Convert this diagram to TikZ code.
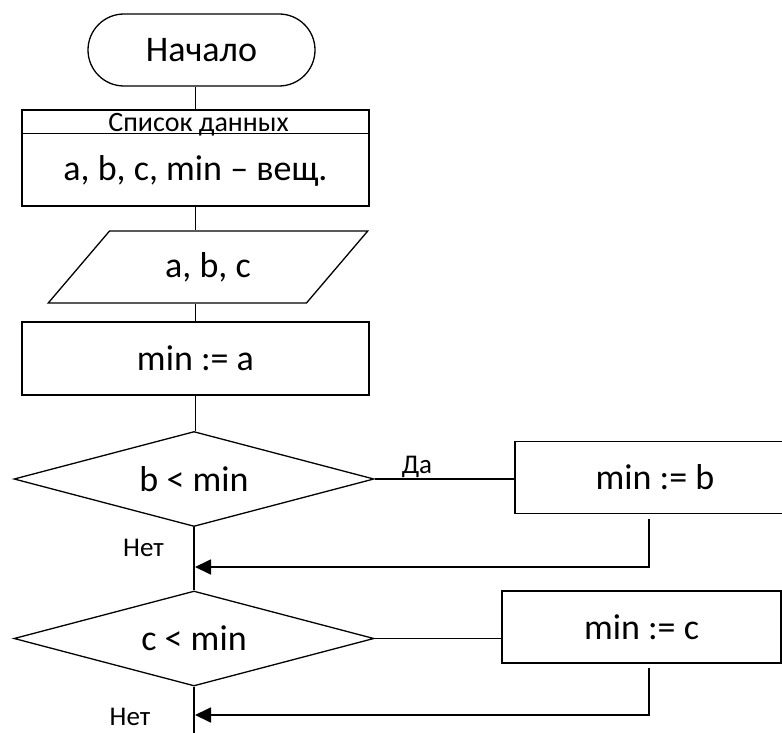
\documentclass[tikz,border=0pt]{standalone}
\usepackage{fontspec}
\setmainfont{Carlito}
\usetikzlibrary{arrows.meta,positioning,shapes.geometric,calc}

\begin{document}
\begin{tikzpicture}[
  x=1pt, y=-1pt,
  term/.style={draw, line width=1.3pt, rounded corners=36pt,
               minimum width=227pt, minimum height=72pt,
               font=\fontsize{36}{40}\selectfont},
  block/.style={draw, line width=1.3pt, minimum width=347pt, inner sep=0pt,
                font=\fontsize{36}{40}\selectfont},
  io/.style={trapezium, trapezium left angle=48, trapezium right angle=132,
             trapezium stretches, draw, line width=1.3pt,
             minimum width=320pt, minimum height=72pt, inner sep=0pt,
             font=\fontsize{36}{40}\selectfont},
  cond/.style={diamond, draw, line width=1.3pt, aspect=3.79,
               minimum width=360pt, minimum height=95pt, inner sep=0pt,
               font=\fontsize{36}{40}\selectfont},
  act/.style={draw, line width=1.3pt, minimum height=72pt, inner sep=0pt,
              font=\fontsize{36}{40}\selectfont},
  conn/.style={line width=1.3pt},
  ret/.style={-{Triangle[length=16pt,width=15pt]}, line width=1.8pt},
  lbl/.style={font=\fontsize{27}{30}\selectfont, inner sep=0pt},
  head/.style={font=\fontsize{28}{30}\selectfont, inner sep=0pt},
]
\path[use as bounding box, clip] (0,0) rectangle (782,733);

\node[term] (start) at (201.5,50) {Начало};
\node[block, minimum height=96pt] (list) at (195.5,158) {};
\node[head, anchor=base] (listhead) at (198.5,132) {Список данных};
\node[anchor=base, inner sep=0pt, font=\fontsize{36}{40}\selectfont]
  (listbody) at (195.5,180) {a, b, c, min – вещ.};
\node[io] (input) at (208,267) {a, b, c};
\node[block, minimum height=73pt] (init) at (195.5,358.5) {min := a};
\node[cond] (c1) at (194,479) {b < min};
\node[act, minimum width=280pt] (s1) at (655,477.5) {min := b};
\node[cond] (c2) at (194,638.5) {c < min};
\node[act, minimum width=279pt] (s2) at (641.5,627) {min := c};

% Header line of the data list
\draw[conn] ([yshift=-24pt]list.north west) -- ([yshift=-24pt]list.north east);

% Main line
\draw[conn] (start.south -| list.north) -- (list.north);
\draw[conn] (list.south) -- (list.south |- input.north);
\draw[conn] (list.south |- input.south) -- (init.north);
\draw[conn] (init.south) -- (init.south |- c1.north);
\draw[conn] (c1.south) -- (c2.north);
\coordinate (stop) at (195,733);
\draw[conn] (c2.south) -- (c2.south |- stop);

% Branches
\draw[conn] (c1.east) -- (c1.east -| s1.west);
\draw[conn] (c2.east) -- (c2.east -| s2.west);
\coordinate (j1) at (195,567);
\coordinate (j2) at (195,715);
\draw[ret] ([xshift=-6pt,yshift=-5pt]s1.south) |- (j1);
\draw[ret] ([xshift=7.5pt,yshift=-4pt]s2.south) |- (j2);

% Labels
\node[lbl, anchor=base] (yes1) at (417,473) {Да};
\node[lbl, anchor=base] (no1) at (143.5,556) {Нет};
\node[lbl, anchor=base] (no2) at (130,725) {Нет};

\end{tikzpicture}
\end{document}
